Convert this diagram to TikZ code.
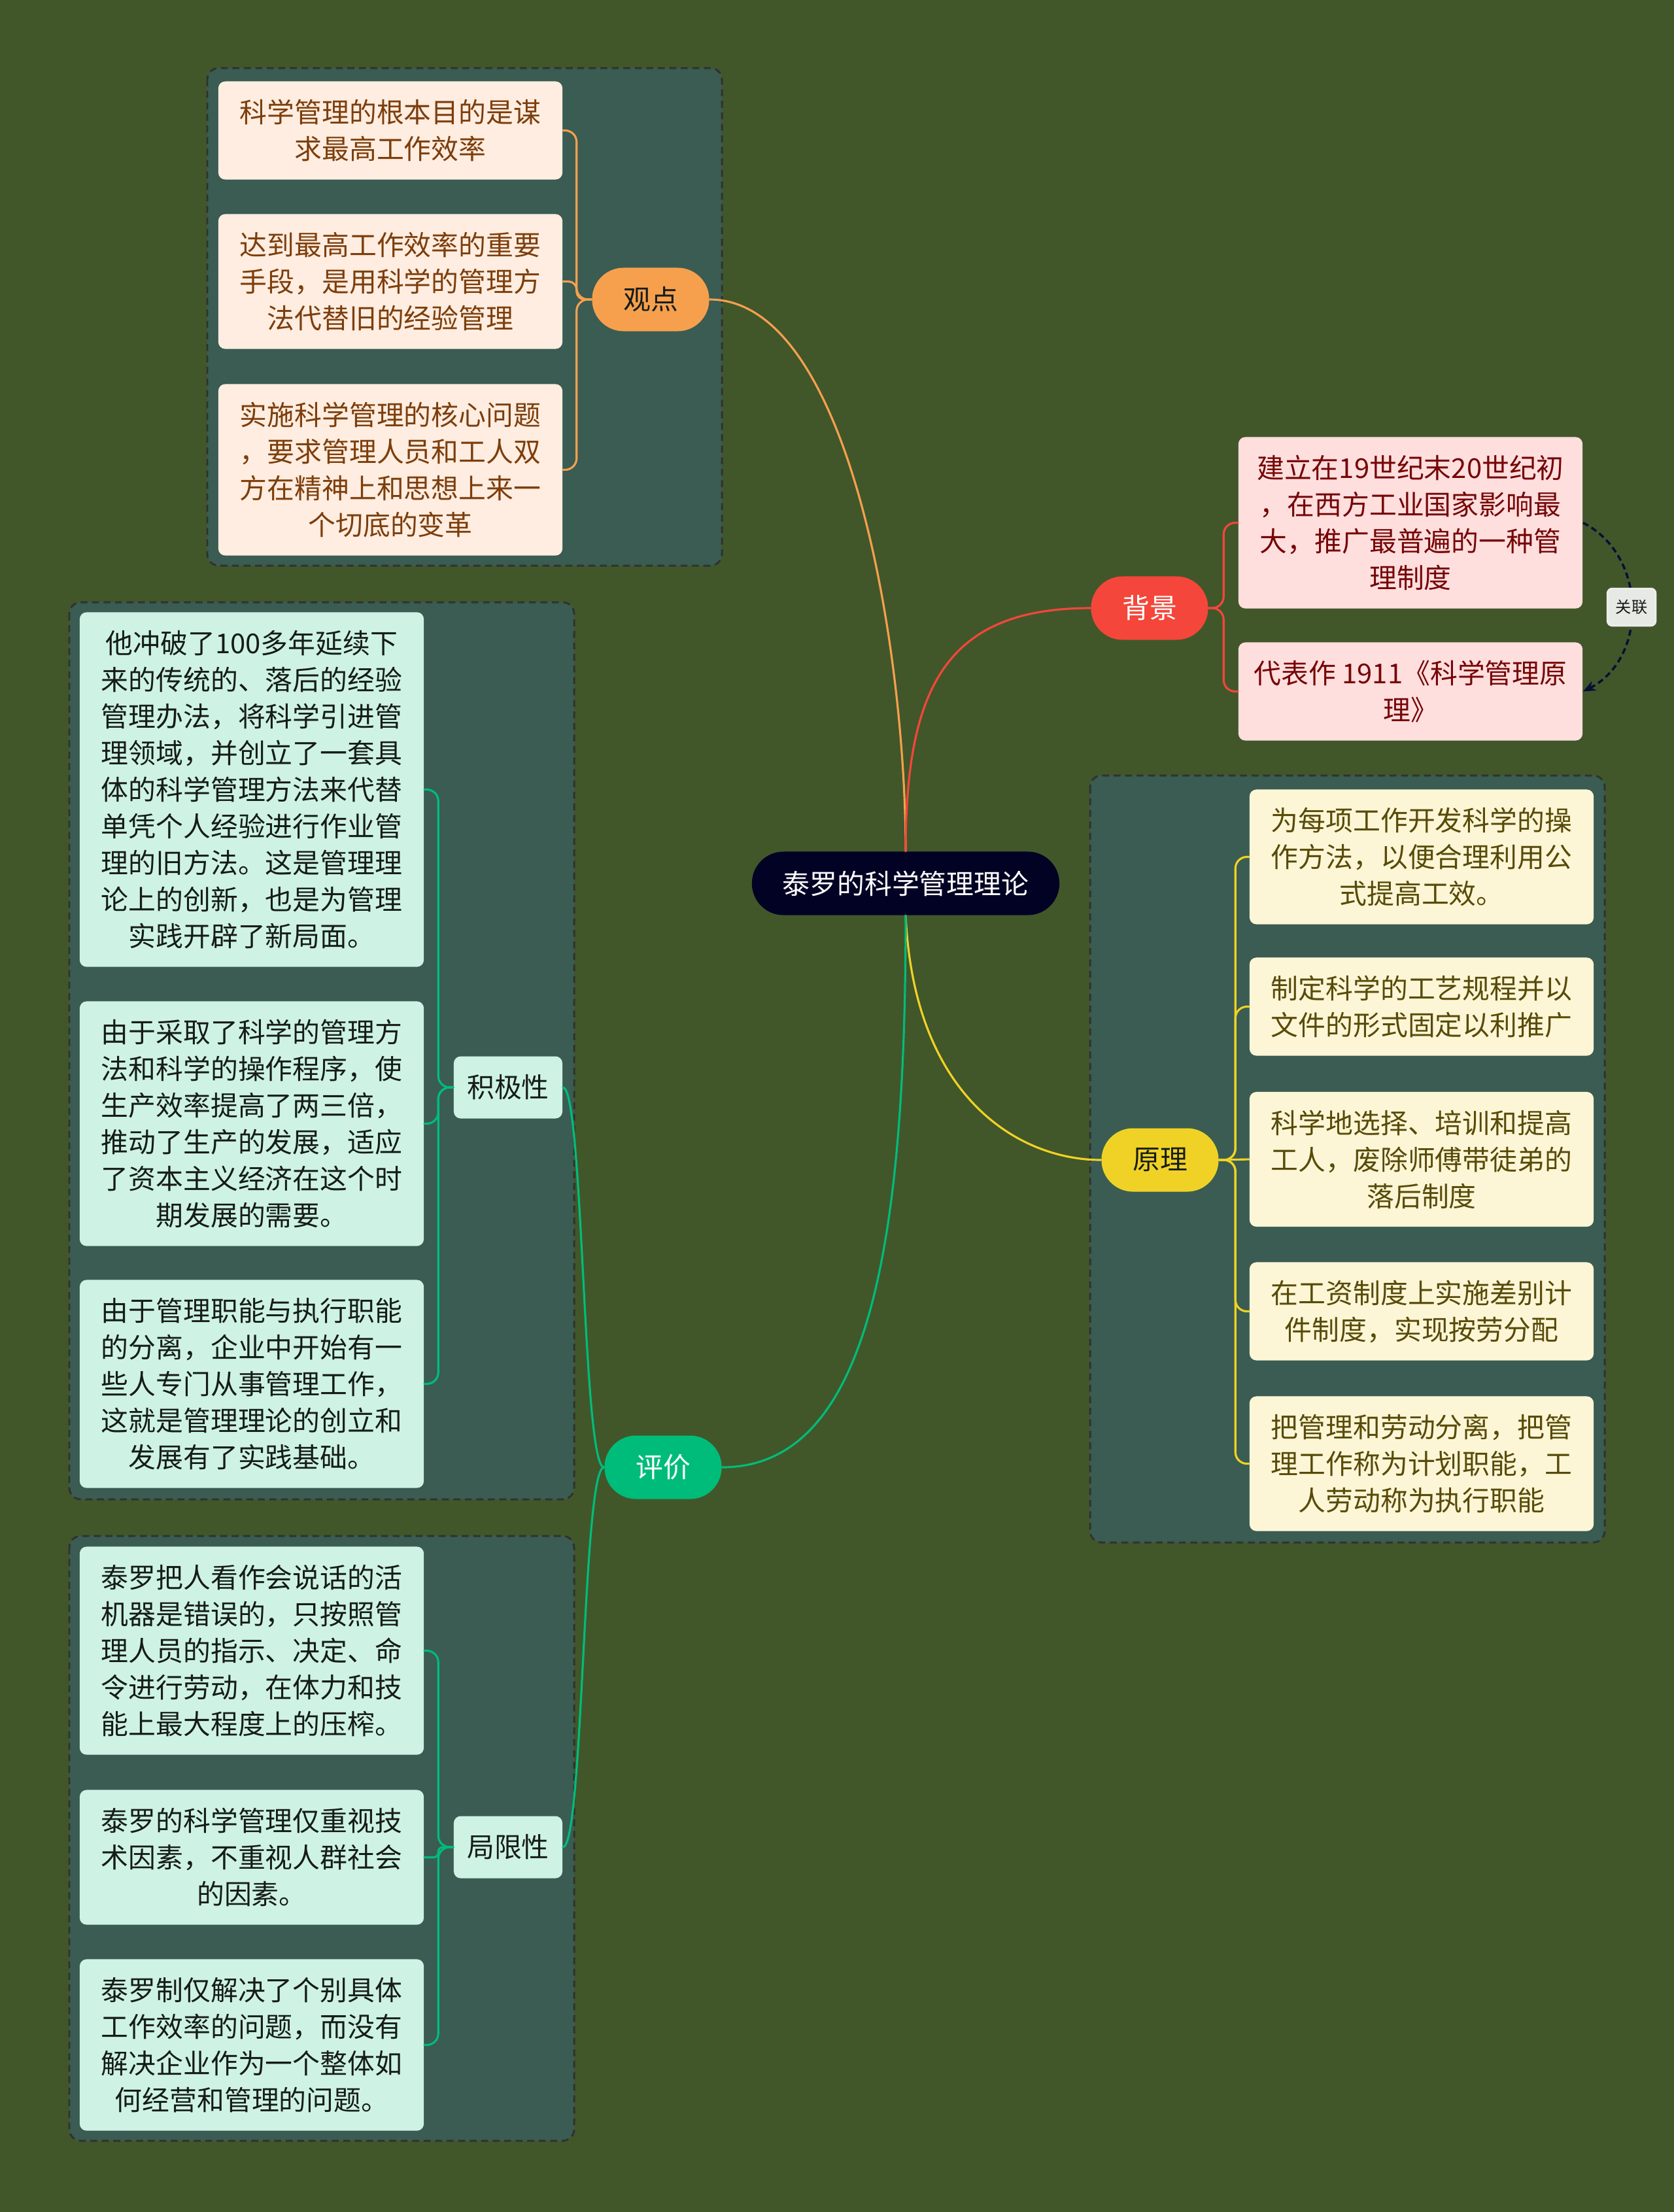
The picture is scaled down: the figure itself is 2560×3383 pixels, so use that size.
\documentclass[tikz,border=0pt]{standalone}
\usepackage{fontspec}
\newfontfamily\cjk{Noto Sans CJK SC}
\usetikzlibrary{arrows.meta}

\definecolor{bgolive}{RGB}{65,87,42}
\definecolor{panelteal}{RGB}{58,92,82}
\definecolor{paneledge}{RGB}{48,50,48}
\definecolor{zxfill}{RGB}{2,3,36}
\definecolor{gdorange}{RGB}{246,160,78}
\definecolor{bjred}{RGB}{244,70,58}
\definecolor{ylyellow}{RGB}{240,210,38}
\definecolor{pjgreen}{RGB}{0,188,122}
\definecolor{gdleaf}{RGB}{254,237,224}
\definecolor{bjleaf}{RGB}{255,222,222}
\definecolor{ylleaf}{RGB}{252,246,214}
\definecolor{pjleaf}{RGB}{206,243,228}
\definecolor{gdtext}{RGB}{125,62,12}
\definecolor{bjtext}{RGB}{118,6,6}
\definecolor{yltext}{RGB}{88,74,8}
\definecolor{pjtext}{RGB}{22,28,24}
\definecolor{relnavy}{RGB}{10,14,52}
\definecolor{relbox}{RGB}{230,233,228}

\tikzset{
  txt/.style={font=\cjk\fontsize{11.9pt}{15.93pt}\selectfont},
  nl/.style={minimum height={(0.56*#1+0.38)*1cm}},
  leaf/.style={txt,rectangle,rounded corners=3pt,minimum width=5.26cm,
    align=center,inner xsep=0pt,inner ysep=0.05cm},
  gleaf/.style={leaf,fill=gdleaf,text=gdtext},
  bleaf/.style={leaf,fill=bjleaf,text=bjtext},
  yleaf/.style={leaf,fill=ylleaf,text=yltext},
  pleaf/.style={leaf,fill=pjleaf,text=pjtext},
  branch/.style={txt,rectangle,rounded corners=13.7pt,minimum width=1.79cm,
    minimum height=0.97cm,inner sep=0pt},
  subbranch/.style={txt,rectangle,rounded corners=3pt,fill=pjleaf,text=pjtext,
    minimum width=1.66cm,minimum height=0.95cm,inner sep=0pt},
  panel/.style={fill=panelteal,draw=paneledge,line width=0.85pt,
    dash pattern=on 3pt off 2pt,rounded corners=5pt},
  link/.style={line width=0.9pt,line cap=round},
}

\begin{document}
\begin{tikzpicture}[x=0.01cm,y=-0.01cm]

% 底色
\useasboundingbox (0,0) rectangle (2560,3383);
\fill[bgolive] (0,0) rectangle (2560,3383);

% 分组底板
\draw[panel] (317,104) rectangle (1104,865);
\draw[panel] (1667,1186) rectangle (2454,2359);
\draw[panel] (106,921) rectangle (878,2293);
\draw[panel] (106,2349) rectangle (878,3274);

% 中心
\node[txt,rectangle,rounded corners=13.7pt,fill=zxfill,text=white,
  minimum width=4.70cm,minimum height=0.97cm,inner sep=0pt]
  (zx) at (1385,1351) {泰罗的科学管理理论};

% 一级分支
\node[branch,fill=gdorange,text=pjtext] (gd) at (995,458) {观点};
\node[branch,fill=bjred,text=white] (bj) at (1758,930) {背景};
\node[branch,fill=ylyellow,text=pjtext] (yl) at (1774,1774) {原理};
\node[branch,fill=pjgreen,text=white] (pj) at (1014,2244) {评价};

\node[subbranch] (jj) at (777,1663) {积极性};
\node[subbranch] (jx) at (777,2825) {局限性};

% 观点
\node[gleaf,nl=2] (g1) at (597,199.5) {科学管理的根本目的是谋\\求最高工作效率};
\node[gleaf,nl=3] (g2) at (597,430.5) {达到最高工作效率的重要\\手段，是用科学的管理方\\法代替旧的经验管理};
\node[gleaf,nl=4] (g3) at (597,718.5) {实施科学管理的核心问题\\，要求管理人员和工人双\\方在精神上和思想上来一\\个切底的变革};

% 背景
\node[bleaf,nl=4] (b1) at (2157,799.5) {建立在19世纪末20世纪初\\，在西方工业国家影响最\\大，推广最普遍的一种管\\理制度};
\node[bleaf,nl=2] (b2) at (2157,1057.5) {代表作 1911《科学管理原\\理》};

% 原理
\node[yleaf,nl=3] (y1) at (2174,1310.5) {为每项工作开发科学的操\\作方法，以便合理利用公\\式提高工效。};
\node[yleaf,nl=2] (y2) at (2174,1539.5) {制定科学的工艺规程并以\\文件的形式固定以利推广};
\node[yleaf,nl=3] (y3) at (2174,1773) {科学地选择、培训和提高\\工人，废除师傅带徒弟的\\落后制度};
\node[yleaf,nl=2] (y4) at (2174,2005.5) {在工资制度上实施差别计\\件制度，实现按劳分配};
\node[yleaf,nl=3] (y5) at (2174,2238.5) {把管理和劳动分离，把管\\理工作称为计划职能，工\\人劳动称为执行职能};

% 积极性
\node[pleaf,nl=9] (j1) at (385,1207.5) {他冲破了100多年延续下\\来的传统的、落后的经验\\管理办法，将科学引进管\\理领域，并创立了一套具\\体的科学管理方法来代替\\单凭个人经验进行作业管\\理的旧方法。这是管理理\\论上的创新，也是为管理\\实践开辟了新局面。};
\node[pleaf,nl=6] (j2) at (385,1718.5) {由于采取了科学的管理方\\法和科学的操作程序，使\\生产效率提高了两三倍，\\推动了生产的发展，适应\\了资本主义经济在这个时\\期发展的需要。};
\node[pleaf,nl=5] (j3) at (385,2116.5) {由于管理职能与执行职能\\的分离，企业中开始有一\\些人专门从事管理工作，\\这就是管理理论的创立和\\发展有了实践基础。};

% 局限性
\node[pleaf,nl=5] (x1) at (385,2524.5) {泰罗把人看作会说话的活\\机器是错误的，只按照管\\理人员的指示、决定、命\\令进行劳动，在体力和技\\能上最大程度上的压榨。};
\node[pleaf,nl=3] (x2) at (385,2840.5) {泰罗的科学管理仅重视技\\术因素，不重视人群社会\\的因素。};
\node[pleaf,nl=4] (x3) at (385,3127.5) {泰罗制仅解决了个别具体\\工作效率的问题，而没有\\解决企业作为一个整体如\\何经营和管理的问题。};

% 主干连线
\draw[link,draw=gdorange] (gd.east) .. controls +(215,0) and +(0,-303) .. (zx.north);
\draw[link,draw=bjred] (zx.north) .. controls +(0,-253) and +(-219,0) .. (bj.west);
\draw[link,draw=ylyellow] (zx.south) .. controls +(13,280) and +(-124,0) .. (yl.west);
\draw[link,draw=pjgreen] (zx.south) .. controls +(0,500) and +(225,0) .. (pj.east);

% 分支连线
\foreach \c/\r in {g1/5pt,g2/3.5pt,g3/5pt}
  \draw[link,draw=gdorange,rounded corners=\r] (gd.west) -- ++(-23,0) |- (\c.east);
\foreach \c in {b1,b2}
  \draw[link,draw=bjred,rounded corners=5pt] (bj.east) -- ++(23,0) |- (\c.west);
\foreach \c in {y1,y2,y4,y5}
  \draw[link,draw=ylyellow,rounded corners=5pt] (yl.east) -- ++(25,0) |- (\c.west);
\draw[link,draw=ylyellow] (yl.east) -- (y3.west);
\foreach \c in {jj,jx}
  \draw[link,draw=pjgreen] (pj.west) .. controls +(-33,0) and +(32,0) .. (\c.east);
\foreach \c/\r in {j1/5pt,j2/5pt,j3/5pt}
  \draw[link,draw=pjgreen,rounded corners=\r] (jj.west) -- ++(-23,0) |- (\c.east);
\foreach \c/\r in {x1/5pt,x2/2pt,x3/5pt}
  \draw[link,draw=pjgreen,rounded corners=\r] (jx.west) -- ++(-23,0) |- (\c.east);

% 关联
\draw[relnavy,line width=1pt,dash pattern=on 2.6pt off 1.6pt,
  -{Stealth[length=5.5pt,width=4.5pt]}]
  (b1.east) .. controls +(99,50) and +(99,-50) .. (b2.east)
  node[pos=0.5,solid,draw=white!85!gray,fill=relbox,text=pjtext,rounded corners=2pt,
    font=\cjk\fontsize{6.9pt}{8pt}\selectfont,minimum width=0.73cm,
    minimum height=0.56cm,inner sep=0pt] (gl) {关联};

\end{tikzpicture}
\end{document}
